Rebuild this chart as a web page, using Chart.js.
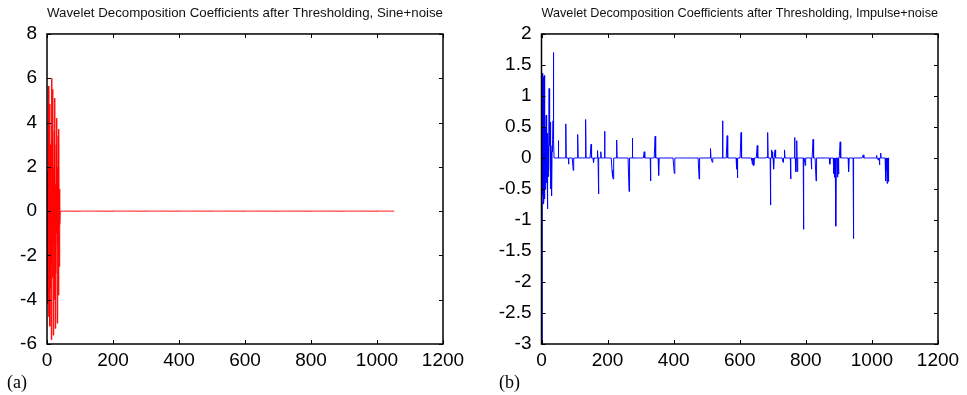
<!DOCTYPE html>
<html>
<head>
<meta charset="utf-8">
<script src="https://cdn.jsdelivr.net/npm/chart.js@4"></script>
<style>
  body { margin: 0; background: #fff; width: 967px; height: 395px; position: relative; overflow: hidden; }
  canvas { position: absolute; top: 0; }
  #c1 { left: 0; }
  #c2 { left: 480px; }
  .tag { position: absolute; font-family: "Liberation Serif", "Times New Roman", serif; font-size: 18px; color: #000; }
</style>
</head>
<body>
<canvas id="c1" width="480" height="395"></canvas>
<canvas id="c2" width="487" height="395"></canvas>
<div class="tag" style="left:7px; top:372px;">(a)</div>
<div class="tag" style="left:499px; top:372px;">(b)</div>
<script>
// number of coefficients in each signal
const nCoef = 1054;

// Sine+noise: only the first coefficients survive the threshold
const sineHead = [-1.5, -3.9, 1.8, -4.2, 5.65, -4.77, 2.5, -2.0, 4.83, -5.2,
  3.0, -3.5, 1.5, -5.8, 6.0, -2.4, 3.2, -3.0, 5.5, -5.6,
  2.0, -1.5, 3.6, -4.0, 5.1, -5.3, 1.2, -2.8, 3.0, -1.0,
  4.2, -5.06, 2.0, -1.5, 3.4, -3.8, 3.7, -2.5, 1.0, -0.6];

// Impulse+noise: surviving coefficients (index, value)
const impulseIdx = [0, 1, 2, 3, 4, 5, 6, 7, 8, 9, 10, 11, 12, 13, 14, 15, 16, 17, 18, 19,
  20, 21, 22, 23, 24, 25, 26, 27, 28, 29, 30, 31, 32, 33, 34, 35, 36, 37,
  51, 74, 82, 96, 110, 134, 150, 158, 170, 172, 180, 191, 214, 215, 216, 217, 228,
  265, 275, 311, 312, 330, 344, 355, 402, 403, 477, 511, 512, 517, 548, 562,
  591, 593, 604, 636, 638, 641, 643, 653, 683, 685, 693, 697, 699, 703, 707,
  731, 736, 754, 766, 770, 772, 773, 774, 793, 798, 817, 822, 831, 873, 885,
  888, 891, 896, 899, 904, 930, 944, 974, 1014, 1019, 1023, 1027, 1042, 1044,
  1046, 1048, 1050];
const impulseVal = [-0.7, -3.0, 1.2, -0.6, 1.37, -0.74, 1.3, -0.7, 1.33, -0.66, 0.3, -0.5, 0.5, -0.3, 0.69, -0.4, 0.3, -0.2, -0.82, 0.4,
  -0.3, 0.2, -0.2, 1.12, 0.2, 0.3, 0.58, -0.5, 0.2, 0.1, -0.3, -0.61, 0.2, 0.1, 0.3, 0.6, 1.70, 0.3,
  0.28, 0.55, -0.1, -0.2, 0.38, 0.62, 0.22, -0.08, 0.12, -0.58, 0.1, 0.43, -0.24, -0.2, -0.3, -0.34, 0.29,
  -0.54, 0.32, 0.1, 0.1, -0.37, 0.35, -0.28, -0.25, -0.2, -0.34, 0.15, 0.15, -0.07, 0.6, 0.36,
  -0.18, -0.32, 0.41, -0.04, -0.1, -0.12, -0.12, 0.2, 0.02, 0.41, -0.76, 0.13, 0.1, -0.18, 0.13,
  -0.07, 0.13, -0.34, 0.33, -0.22, 0.28, 0.28, -0.22, -1.15, -0.12, -0.18, 0.3, -0.37, -0.1, -0.25,
  -0.31, -1.1, -0.31, -0.26, 0.26, -0.22, -1.30, 0.05, 0.04, -0.03, -0.11, 0.08, -0.37, -0.2,
  -0.41, -0.3, -0.38];

const xTicks = [0, 200, 400, 600, 800, 1000, 1200];
const yTicksA = [-6, -4, -2, 0, 2, 4, 6, 8];
const yTicksB = [-3, -2.5, -2, -1.5, -1, -0.5, 0, 0.5, 1, 1.5, 2];

const titleA = 'Wavelet Decomposition Coefficients after Thresholding, Sine+noise';
const titleB = 'Wavelet Decomposition Coefficients after Thresholding, Impulse+noise';

// full coefficient vectors (thresholded ones are zero)
const sinePts = [];
for (let i = 0; i < nCoef; i++) {
    sinePts.push({x: i, y: i < sineHead.length ? sineHead[i] : 0});
}
const impulsePts = [];
for (let i = 0; i < nCoef; i++) impulsePts.push({x: i, y: 0});
impulseIdx.forEach((k, j) => { impulsePts[k].y = impulseVal[j]; });

const tickFont = {family: '"Liberation Sans", Arial, sans-serif', size: 19};

// matlab style box with inward ticks
const boxTicks = {
    id: 'boxTicks',
    afterDraw(chart) {
        const ctx = chart.ctx;
        const a = chart.chartArea;
        const sx = chart.scales.x, sy = chart.scales.y;
        ctx.save();
        ctx.strokeStyle = '#000';
        ctx.lineWidth = 1;
        ctx.beginPath();
        sx.ticks.forEach(t => {
            const px = Math.round(sx.getPixelForValue(t.value)) + 0.5;
            ctx.moveTo(px, a.bottom); ctx.lineTo(px, a.bottom - 4);
            ctx.moveTo(px, a.top); ctx.lineTo(px, a.top + 4);
        });
        sy.ticks.forEach(t => {
            const py = Math.round(sy.getPixelForValue(t.value)) + 0.5;
            ctx.moveTo(a.left, py); ctx.lineTo(a.left + 4, py);
            ctx.moveTo(a.right, py); ctx.lineTo(a.right - 4, py);
        });
        ctx.stroke();
        ctx.lineWidth = 1.5;
        ctx.strokeRect(a.left, a.top, a.right - a.left, a.bottom - a.top);
        ctx.restore();
    }
};

function makeChart(id, pts, color, title, yTicks, yWidth, padRight)
{
    const config = {
        type: 'line',
        data: {
            datasets: [{
                data: pts,
                borderColor: color,
                borderWidth: 1,
                pointRadius: 0,
                tension: 0,
                fill: false
            }]
        },
        options: {
            responsive: false,
            animation: false,
            events: [],
            layout: {padding: {left: 0, right: padRight, top: 0, bottom: 0}},
            plugins: {
                legend: {display: false},
                tooltip: {enabled: false},
                title: {
                    display: true,
                    text: title,
                    fullSize: false,
                    color: '#111',
                    font: {family: '"Liberation Sans", Arial, sans-serif', size: 13.3, weight: 'normal'},
                    padding: {top: 5, bottom: 13}
                }
            },
            scales: {
                x: {
                    type: 'linear',
                    min: 0, max: 1200,
                    grid: {display: false, drawTicks: false},
                    border: {display: false},
                    afterBuildTicks: s => { s.ticks = xTicks.map(v => ({value: v})); },
                    afterFit: s => { s.height = 51; },
                    ticks: {color: '#000', font: tickFont, padding: 5, maxRotation: 0,
                            callback: v => String(v)}
                },
                y: {
                    type: 'linear',
                    min: yTicks[0], max: yTicks[yTicks.length - 1],
                    grid: {display: false, drawTicks: false},
                    border: {display: false},
                    afterBuildTicks: s => { s.ticks = yTicks.map(v => ({value: v})); },
                    afterFit: s => { s.width = yWidth; },
                    ticks: {color: '#000', font: tickFont, padding: 10, callback: v => String(v)}
                }
            }
        },
        plugins: [boxTicks]
    };
    return new Chart(document.getElementById(id).getContext('2d'), config);
}

makeChart('c1', sinePts, '#ff0000', titleA, yTicksA, 47, 37);
makeChart('c2', impulsePts, '#0000ff', titleB, yTicksB, 61.5, 29);
</script>
</body>
</html>
